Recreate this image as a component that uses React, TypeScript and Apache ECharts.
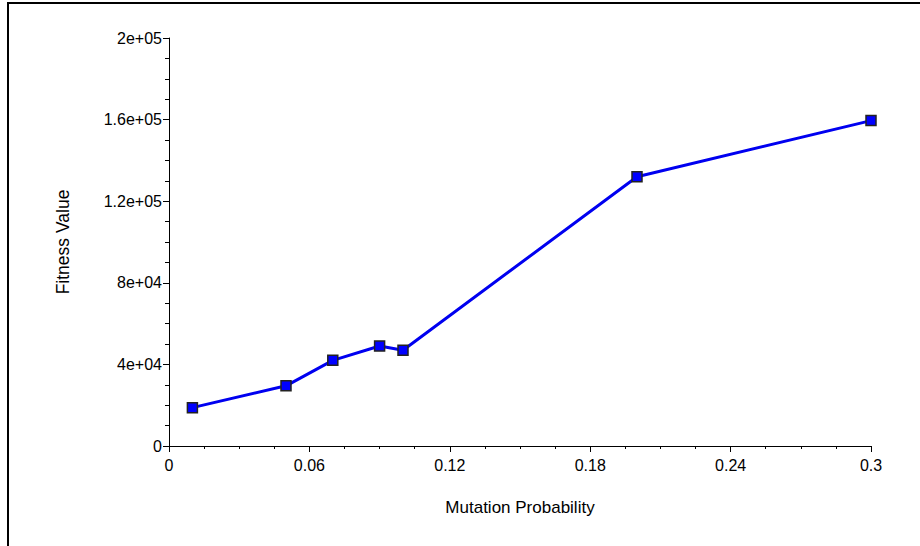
import React, { useEffect, useRef } from "react";
import * as echarts from "echarts";

const mutationProb = [0.01, 0.05, 0.07, 0.09, 0.1, 0.2, 0.3];
const fitnessValue = [18800, 29500, 42000, 49000, 46900, 132000, 159500];
const xTickLabels = ["0", "0.06", "0.12", "0.18", "0.24", "0.3"];
const yTickLabels = ["0", "4e+04", "8e+04", "1.2e+05", "1.6e+05", "2e+05"];

const FONT = "'Liberation Sans', Arial, sans-serif";

export default function App() {
  const ref = useRef<HTMLDivElement>(null);
  useEffect(() => {
    if (!ref.current) return;
    const chart = echarts.init(ref.current, null, { renderer: "svg" });
    const xStep = 0.06;
    const yStep = 40000;
    chart.setOption({
      animation: false,
      backgroundColor: "#ffffff",
      grid: { left: 169, right: 49, top: 38, bottom: 100, containLabel: false },
      graphic: [
        {
          type: "polyline",
          shape: { points: [[8, 560], [8, 3], [940, 3]] },
          style: { fill: "none", stroke: "#000", lineWidth: 2 },
          z: 100,
        },
      ],
      xAxis: {
        type: "value",
        min: 0,
        max: 0.3,
        interval: xStep,
        name: "Mutation Probability",
        nameLocation: "middle",
        nameGap: 53,
        nameTextStyle: { fontFamily: FONT, fontSize: 17, color: "#000" },
        axisLine: { show: true, onZero: false, lineStyle: { color: "#000", width: 1 } },
        axisTick: { show: true, inside: false, length: 6, lineStyle: { color: "#000" } },
        minorTick: { show: true, splitNumber: 4, length: 3, lineStyle: { color: "#000" } },
        splitLine: { show: false },
        axisLabel: {
          fontFamily: FONT,
          fontSize: 16,
          color: "#000",
          margin: 11,
          formatter: (v: number) => xTickLabels[Math.round(v / xStep)] ?? "",
        },
      },
      yAxis: {
        type: "value",
        min: 0,
        max: 200000,
        interval: yStep,
        name: "Fitness Value",
        nameLocation: "middle",
        nameGap: 97,
        nameTextStyle: { fontFamily: FONT, fontSize: 17.5, color: "#000" },
        axisLine: { show: true, onZero: false, lineStyle: { color: "#000", width: 1 } },
        axisTick: { show: true, inside: false, length: 6, lineStyle: { color: "#000" } },
        minorTick: { show: true, splitNumber: 4, length: 4, lineStyle: { color: "#000" } },
        splitLine: { show: false },
        axisLabel: {
          fontFamily: FONT,
          fontSize: 16,
          color: "#000",
          margin: 7,
          formatter: (v: number) => yTickLabels[Math.round(v / yStep)] ?? "",
        },
      },
      series: [
        {
          type: "line",
          data: mutationProb.map((x, i) => [x, fitnessValue[i]]),
          symbol: "rect",
          symbolSize: 10,
          lineStyle: { color: "#0000f0", width: 3 },
          itemStyle: { color: "#0000ff", borderColor: "#222", borderWidth: 1.5 },
        },
      ],
    });
    return () => chart.dispose();
  }, []);
  return (
    <div
      ref={ref}
      style={{ position: "absolute", left: 0, top: 0, width: 920, height: 546 }}
    />
  );
}
